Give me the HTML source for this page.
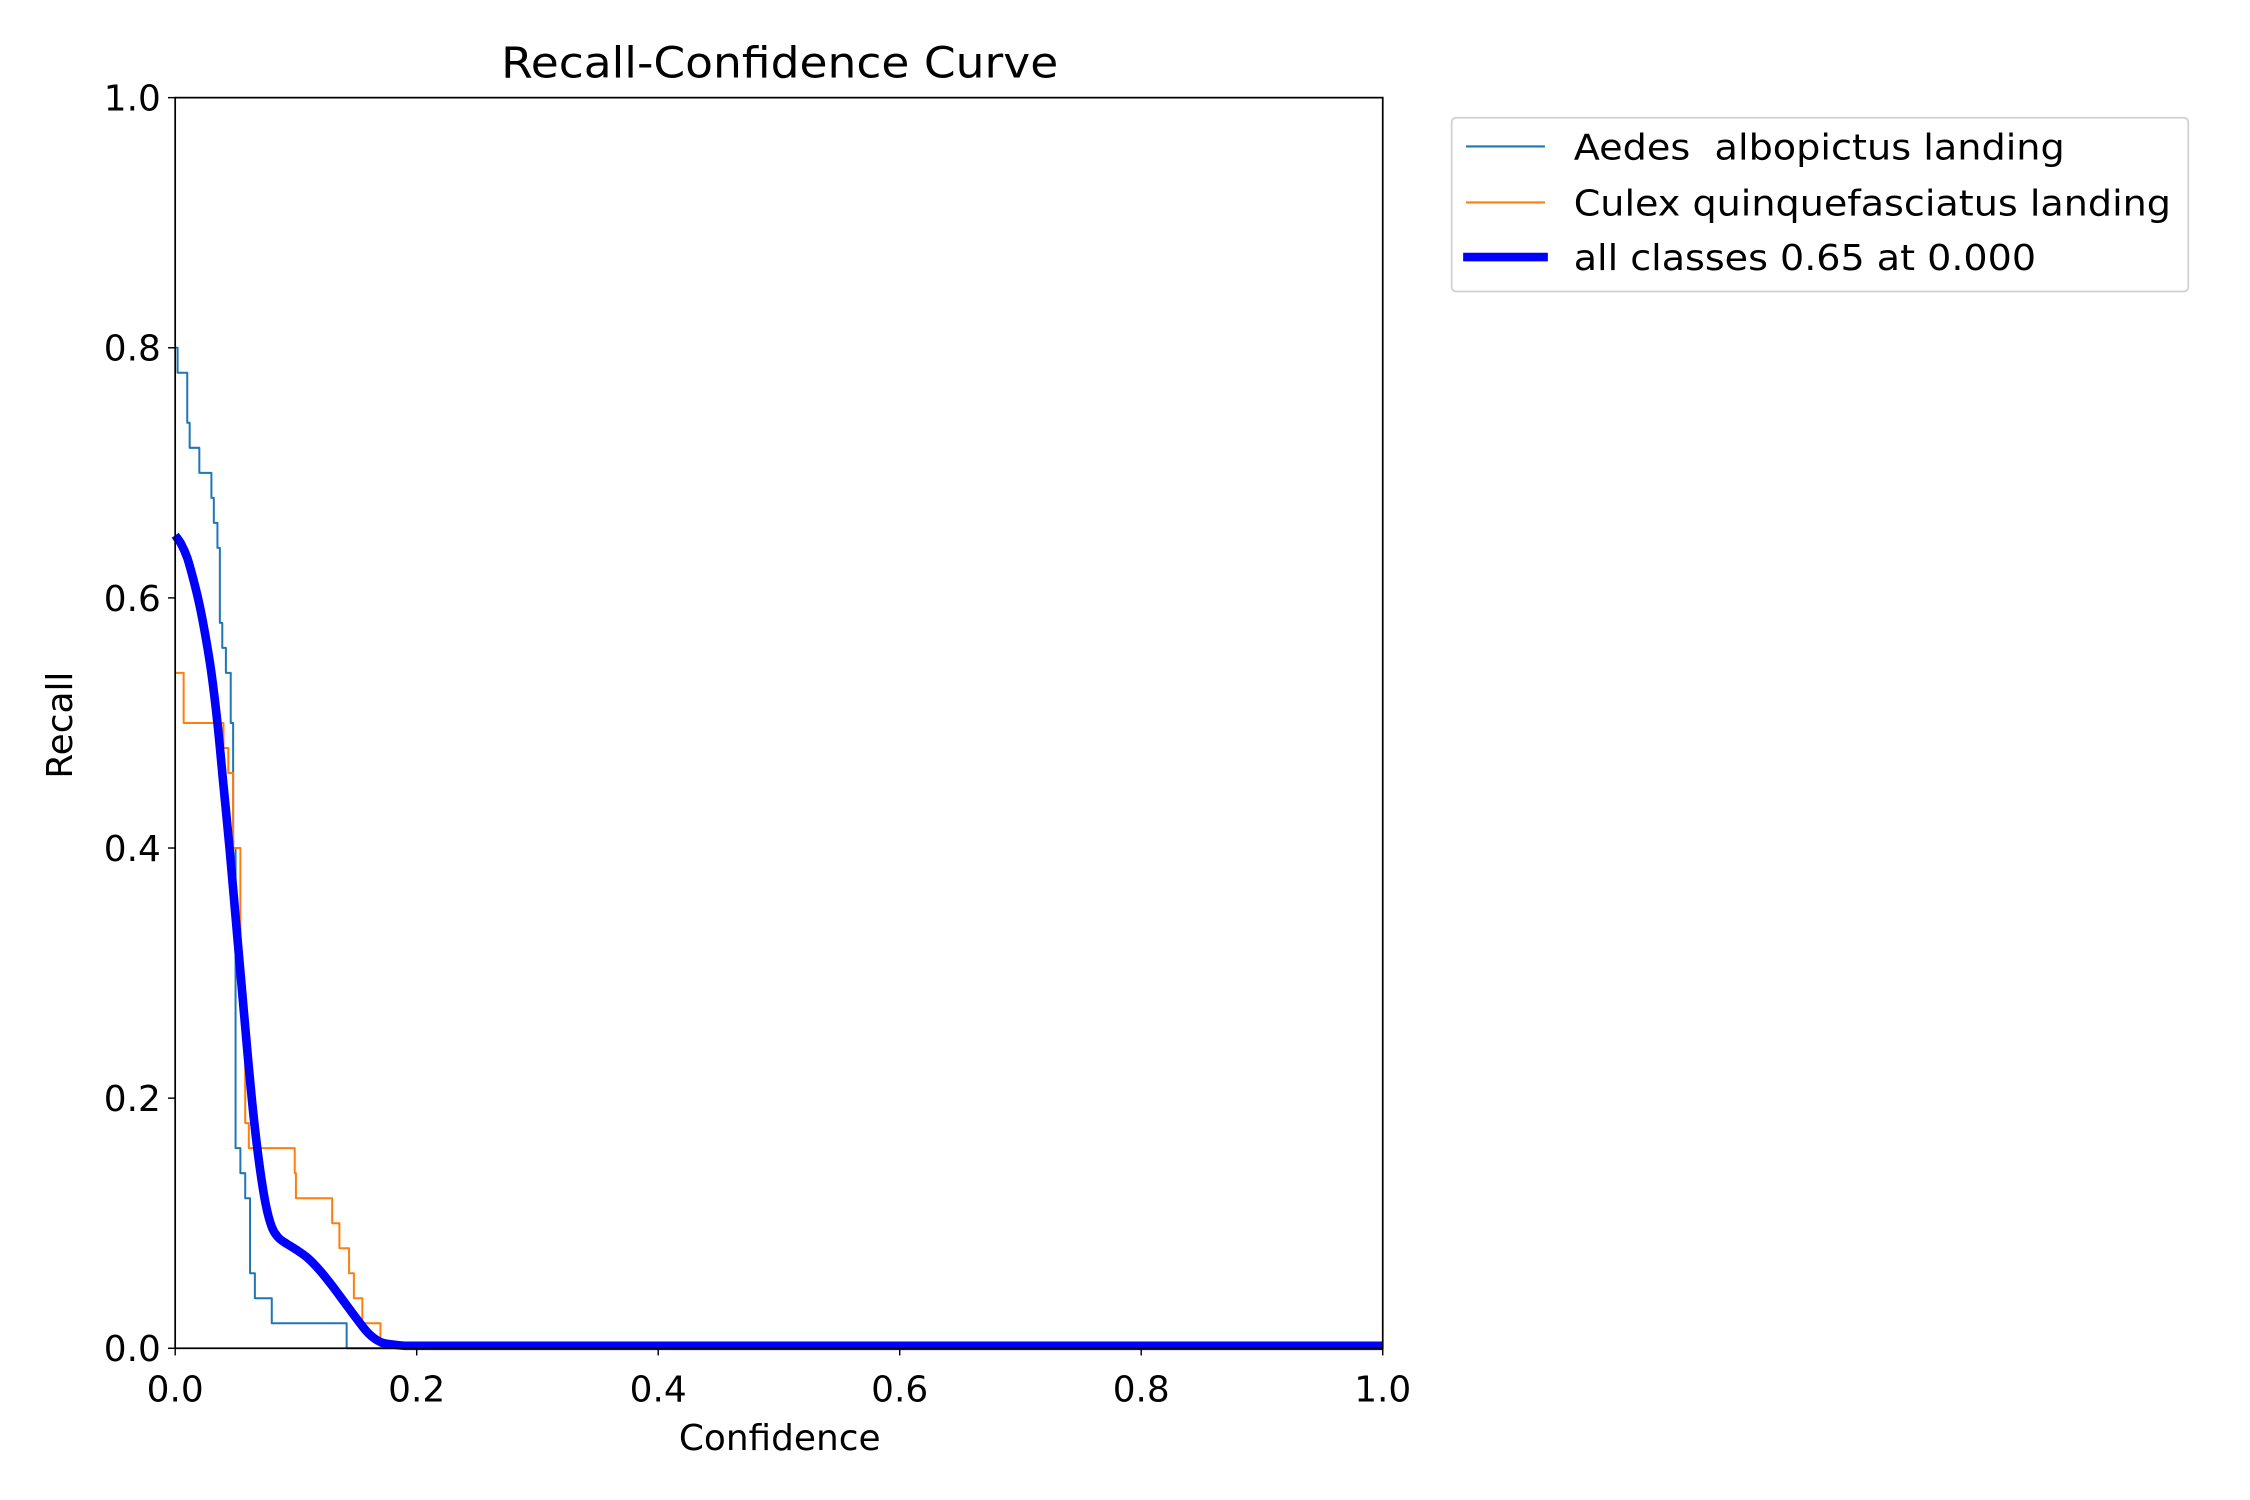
<!DOCTYPE html>
<html><head><meta charset="utf-8"><style>
html,body{margin:0;padding:0;background:#fff;}
svg{display:block;}
text{font-family:"DejaVu Sans","Liberation Sans",sans-serif;fill:#000;}
</style></head><body>
<svg id="chart" width="2250" height="1500" viewBox="0 0 1567 1044.67" xmlns="http://www.w3.org/2000/svg">
<rect width="1567" height="1045" fill="#fff"/>
<text x="543" y="54" font-size="30" text-anchor="middle" textLength="388" lengthAdjust="spacingAndGlyphs">Recall-Confidence Curve</text>
<g id="plot"></g>
<rect x="122" y="68" width="841" height="871" fill="none" stroke="#000" stroke-width="1.2"/>
<g id="ticks"></g>
<text x="543" y="1010" font-size="25" text-anchor="middle">Confidence</text>
<text x="50" y="505" font-size="25" text-anchor="middle" transform="rotate(-90 50 505)">Recall</text>
<g>
<rect x="1011" y="82" width="513" height="121" rx="3" fill="#fff" stroke="#d0d0d0" stroke-width="1.2"/>
<line x1="1021" y1="102" x2="1076" y2="102" stroke="#1f77b4" stroke-width="1.5"/>
<text x="1096" y="111" font-size="25" xml:space="preserve" textLength="342" lengthAdjust="spacingAndGlyphs">Aedes  albopictus landing</text>
<line x1="1021" y1="141" x2="1076" y2="141" stroke="#ff7f0e" stroke-width="1.5"/>
<text x="1096" y="150" font-size="25" textLength="416" lengthAdjust="spacingAndGlyphs">Culex quinquefasciatus landing</text>
<line x1="1019" y1="179" x2="1078" y2="179" stroke="#0000ff" stroke-width="6"/>
<text x="1096" y="188" font-size="25" textLength="322" lengthAdjust="spacingAndGlyphs">all classes 0.65 at 0.000</text>
</g>
</svg>
<script>
const xTicks=[0,0.2,0.4,0.6,0.8,1.0];
const yTicks=[0,0.2,0.4,0.6,0.8,1.0];
const tickLabels=["0.0","0.2","0.4","0.6","0.8","1.0"];
const aedesX=[0,0.002,0.01,0.012,0.02,0.03,0.032,0.035,0.037,0.039,0.042,0.046,0.048,0.05,0.054,0.058,0.062,0.066,0.08,0.142,1.0];
const aedesY=[0.80,0.78,0.74,0.72,0.70,0.68,0.66,0.64,0.58,0.56,0.54,0.50,0.40,0.16,0.14,0.12,0.06,0.04,0.02,0.0,0.0];
const culexX=[0,0.007,0.04,0.044,0.048,0.054,0.058,0.061,0.099,0.1,0.13,0.136,0.144,0.148,0.155,0.17,1.0];
const culexY=[0.54,0.50,0.48,0.46,0.40,0.28,0.18,0.16,0.14,0.12,0.10,0.08,0.06,0.04,0.02,0.0,0.0];
const allX=[0,0.005,0.01,0.015,0.02,0.025,0.03,0.035,0.04,0.045,0.05,0.055,0.06,0.065,0.07,0.075,0.08,0.085,0.09,0.1,0.11,0.12,0.13,0.14,0.15,0.16,0.17,0.18,0.19,0.2,1.0];
const allY=[0.65,0.643,0.632,0.615,0.595,0.57,0.54,0.50,0.45,0.40,0.345,0.29,0.235,0.185,0.145,0.115,0.097,0.089,0.085,0.079,0.072,0.062,0.05,0.037,0.024,0.012,0.005,0.003,0.002,0.002,0.002];
const X0=122,X1=963,Y0=939,Y1=68;
const sx=v=>X0+v*(X1-X0), sy=v=>Y0-v*(Y0-Y1);
const NS="http://www.w3.org/2000/svg";
const plot=document.getElementById('plot'), ticks=document.getElementById('ticks');
function stepPath(xs,ys){let d=`M${sx(xs[0])},${sy(ys[0])}`;for(let i=1;i<xs.length;i++){d+=`L${sx(xs[i])},${sy(ys[i-1])}L${sx(xs[i])},${sy(ys[i])}`;}return d;}
function smoothPath(xs,ys){const p=xs.map((x,i)=>[sx(x),sy(ys[i])]);let d=`M${p[0][0]},${p[0][1]}`;
const n=p.length;
for(let i=0;i<n-1;i++){const b=p[i],c=p[i+1];
if(i>=n-2){d+=`L${c[0]},${c[1]}`;continue;}
const a=p[Math.max(0,i-1)],e=p[Math.min(n-2,i+2)];
const c1x=b[0]+(c[0]-a[0])/6,c1y=b[1]+(c[1]-a[1])/6,c2x=c[0]-(e[0]-b[0])/6,c2y=c[1]-(e[1]-b[1])/6;
d+=`C${c1x},${c1y} ${c2x},${c2y} ${c[0]},${c[1]}`;}return d;}
function addPath(d,color,w,name){const p=document.createElementNS(NS,'path');p.setAttribute('d',d);p.setAttribute('fill','none');p.setAttribute('stroke',color);p.setAttribute('stroke-width',w);p.setAttribute('stroke-linejoin','round');


plot.appendChild(p);}
addPath(stepPath(aedesX,aedesY),'#1f77b4',1.4,'aedes-line');
addPath(stepPath(culexX,culexY),'#ff7f0e',1.4,'culex-line');
addPath(smoothPath(allX,allY),'#0000ff',6,'all-classes-line');
xTicks.forEach((v,i)=>{const l=document.createElementNS(NS,'line');l.setAttribute('x1',sx(v));l.setAttribute('x2',sx(v));l.setAttribute('y1',Y0);l.setAttribute('y2',Y0+5);l.setAttribute('stroke','#000');l.setAttribute('stroke-width','1');


ticks.appendChild(l);
const t=document.createElementNS(NS,'text');t.setAttribute('x',sx(v));t.setAttribute('y',Y0+37);t.setAttribute('font-size','25');t.setAttribute('text-anchor','middle');t.textContent=tickLabels[i];


ticks.appendChild(t);});
yTicks.forEach((v,i)=>{const l=document.createElementNS(NS,'line');l.setAttribute('x1',X0-5);l.setAttribute('x2',X0);l.setAttribute('y1',sy(v));l.setAttribute('y2',sy(v));l.setAttribute('stroke','#000');l.setAttribute('stroke-width','1');


ticks.appendChild(l);
const t=document.createElementNS(NS,'text');t.setAttribute('x',X0-10);t.setAttribute('y',sy(v)+9);t.setAttribute('font-size','25');t.setAttribute('text-anchor','end');t.textContent=tickLabels[i];


ticks.appendChild(t);});
</script>
</body></html>
